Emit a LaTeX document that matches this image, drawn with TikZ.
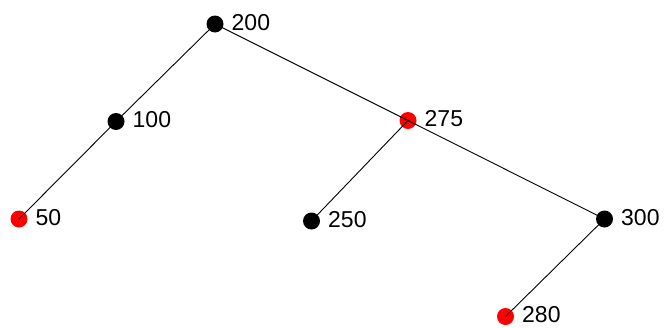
\documentclass[tikz,border=0pt]{standalone}
\usepackage{fontspec}
\setmainfont{Liberation Sans}
\begin{document}
\begin{tikzpicture}[x=1pt,y=-1pt,
  dot/.style={circle,fill=#1,minimum size=17pt,inner sep=0pt},
  lbl/.style={anchor=base west,inner sep=0pt,font=\fontsize{23pt}{26pt}\selectfont},
  edge/.style={draw=black,line width=0.9pt}]
\useasboundingbox (0,0) rectangle (664,327);
\node[dot=black] (n200) at (215,24) {};
\node[dot=black] (n100) at (116,121.5) {};
\node[dot=red]   (n275) at (408,120.5) {};
\node[dot=red]   (n50)  at (19,219) {};
\node[dot=black] (n250) at (311.5,221) {};
\node[dot=black] (n300) at (604.5,219) {};
\node[dot=red]   (n280) at (505.5,316.5) {};
\foreach \n/\t in {n200/200,n100/100,n275/275,n50/50,n250/250,n300/300,n280/280}{
  \node[lbl] (l\n) at ([xshift=16.5pt,yshift=-6pt]\n.center) {\t};
}
\draw[edge] (n200.center) -- (n100.center);
\draw[edge] (n200.center) -- (n275.center);
\draw[edge] (n100.center) -- (n50.center);
\draw[edge] (n275.center) -- (n250.center);
\draw[edge] (n275.center) -- (n300.center);
\draw[edge] (n300.center) -- (n280.center);
\end{tikzpicture}
\end{document}
